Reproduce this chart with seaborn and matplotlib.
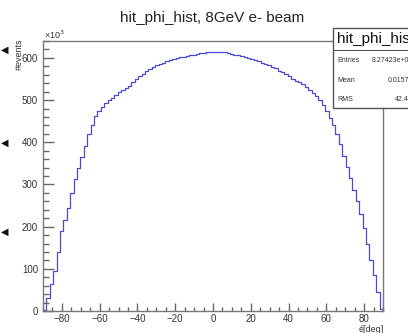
import seaborn as sns
import pandas as pd
import matplotlib.pyplot as plt
import matplotlib.ticker as mticker
from matplotlib.patches import Rectangle
import numpy as np

# hit phi histogram, 100 bins from -90 to 90 deg, counts in units of 10^3
bin_lo = -90
bin_hi = 90
n_bins = 100
counts_k = [
    3, 30, 65, 95, 140, 190, 215, 243, 280, 312,
    340, 366, 392, 420, 442, 462, 474, 483, 492, 501,
    506, 511, 518, 523, 529, 534, 542, 550, 557, 562,
    568, 573, 578, 582, 586, 589, 593, 595, 598, 600,
    602, 603, 605, 606, 608, 609, 611, 612, 613, 614,
    614, 615, 614, 613, 612, 610, 608, 606, 604, 601,
    599, 597, 594, 592, 589, 586, 582, 578, 575, 570,
    566, 561, 556, 551, 546, 542, 537, 531, 524, 517,
    510, 500, 489, 474, 458, 440, 420, 395, 368, 342,
    315, 287, 260, 230, 196, 158, 122, 85, 45, 5,
]
stat_names = ["Entries", "Mean", "RMS"]
stat_values = ["8.27423e+07", "0.01574", "42.43"]

edges = np.linspace(bin_lo, bin_hi, n_bins + 1)
df = pd.DataFrame({"phi": (edges[:-1] + edges[1:]) / 2, "n": counts_k})

sns.set_theme(style="white")
plt.rcParams["font.family"] = ["Liberation Sans", "DejaVu Sans"]

fig = plt.figure(figsize=(4.08, 3.33), dpi=100)
ax = fig.add_axes([43 / 408, 22 / 333, 340 / 408, 270 / 333])

sns.histplot(data=df, x="phi", weights="n", bins=n_bins,
             binrange=(bin_lo, bin_hi), element="step",
             fill=False, color="#4a4ad2", linewidth=0.9, ax=ax)

ax.set_xlim(bin_lo, bin_hi)
ax.set_ylim(0, 640)
ax.set_xlabel("")
ax.set_ylabel("")
ax.xaxis.set_major_locator(mticker.MultipleLocator(20))
ax.xaxis.set_minor_locator(mticker.MultipleLocator(5))
ax.yaxis.set_major_locator(mticker.MultipleLocator(100))
ax.yaxis.set_minor_locator(mticker.MultipleLocator(20))
ax.tick_params(which="both", direction="in", colors="#666666",
               labelcolor="#333333", labelsize=7, top=False, right=False,
               left=True, bottom=True)
ax.tick_params(axis="y", which="major", length=8, width=1)
ax.tick_params(axis="y", which="minor", length=4, width=1)
ax.tick_params(axis="x", which="major", length=6, width=1, pad=2)
ax.tick_params(axis="x", which="minor", length=3, width=1)
for s in ax.spines.values():
    s.set_color("#777777")
    s.set_linewidth(1.0)

fig.text(212 / 408, 1 - 18 / 333, "hit_phi_hist, 8GeV e- beam",
         ha="center", va="center", fontsize=11, color="#222222")
fig.text(44 / 408, 1 - 35 / 333, "×10$^3$", ha="left", va="center",
         fontsize=6.5, color="#333333")
fig.text(19 / 408, 1 - 39 / 333, "#events", rotation=90, ha="center",
         va="top", fontsize=6.5, color="#333333")
fig.text(384 / 408, 1 - 329 / 333, "é[deg]", ha="right", va="center",
         fontsize=6.5, color="#333333")

# stat box
box = Rectangle((333 / 408, 1 - 108 / 333), 90 / 408, 80 / 333,
                transform=fig.transFigure, facecolor="white",
                edgecolor="#555555", linewidth=1.0, zorder=5)
fig.add_artist(box)
fig.add_artist(plt.Line2D([333 / 408, 1.1], [1 - 50 / 333, 1 - 50 / 333],
                          transform=fig.transFigure, color="#555555",
                          linewidth=0.8, zorder=6))
fig.text(337 / 408, 1 - 39 / 333, "hit_phi_hist", ha="left", va="center",
         fontsize=11, color="#111111", zorder=7)
for name, val, y in zip(stat_names, stat_values, [60, 80, 99]):
    fig.text(337 / 408, 1 - y / 333, name, ha="left", va="center",
             fontsize=5, color="#333333", zorder=7)
    fig.text(413 / 408, 1 - y / 333, val, ha="right", va="center",
             fontsize=5, color="#333333", zorder=7)

# window widget marks at the left edge
for y in [50, 143, 232]:
    fig.text(1 / 408, 1 - y / 333, "◀", ha="left", va="center",
             fontsize=7, color="#111111")

fig.savefig("out.png", dpi=100)
